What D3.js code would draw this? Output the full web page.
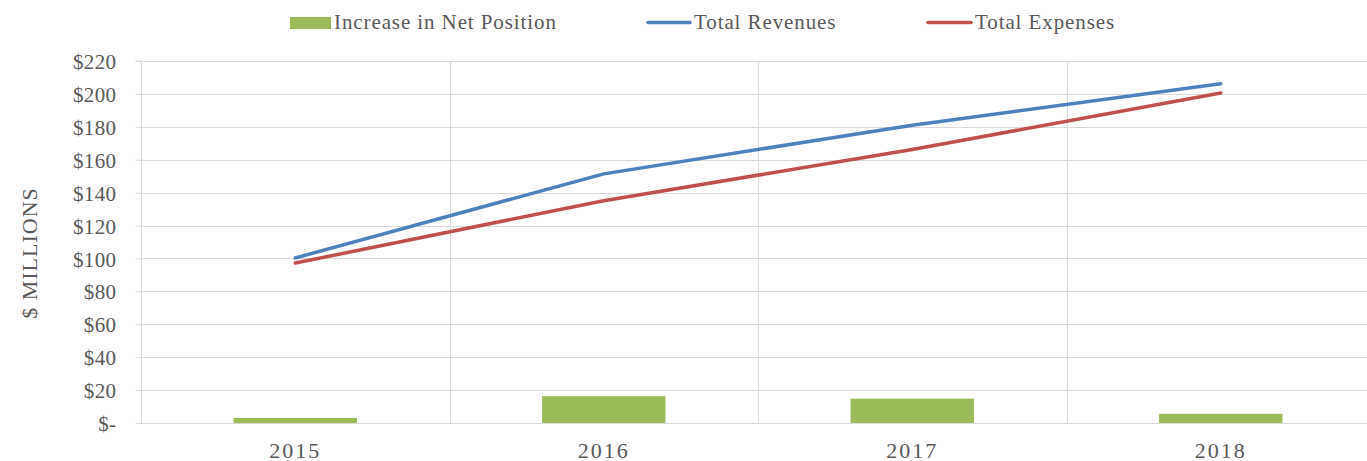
<!DOCTYPE html>
<html>
<head>
<meta charset="utf-8">
<script src="https://cdn.jsdelivr.net/npm/d3@7"></script>
<style>
  html, body { margin: 0; padding: 0; background: #fff; overflow: hidden; }
  svg text { font-family: "Liberation Serif", "Tinos", "Times New Roman", "DejaVu Serif", serif !important; }
</style>
</head>
<body>
<svg id="chart" width="1367" height="461"></svg>
<script>
const years = ["2015", "2016", "2017", "2018"];
const increaseNetPosition = [3.1, 16.3, 14.8, 5.6];
const totalRevenues = [100.3, 151.4, 181.0, 206.2];
const totalExpenses = [97.2, 135.1, 166.2, 200.6];
const yTicks = [0, 20, 40, 60, 80, 100, 120, 140, 160, 180, 200, 220];
const legendLabels = ["Increase in Net Position", "Total Revenues", "Total Expenses"];

const colors = { bar: "#9bbb59", rev: "#4f81bd", exp: "#c0504d", grid: "#d9d9d9", text: "#595959" };
const svg = d3.select("#chart");
const pLeft = 141, pRight = 1375, pTop = 61, pBottom = 423;

const x = d3.scaleBand().domain(years).range([pLeft, pRight]).paddingInner(0).paddingOuter(0);
const y = d3.scaleLinear().domain([0, 220]).range([pBottom, pTop]);

// horizontal gridlines
svg.append("g").selectAll("line").data(yTicks.filter(d => d > 0)).join("line")
  .attr("x1", pLeft).attr("x2", pRight)
  .attr("y1", d => Math.round(y(d)) + 0.5).attr("y2", d => Math.round(y(d)) + 0.5)
  .attr("stroke", colors.grid).attr("stroke-width", 1);

// vertical category gridlines
svg.append("g").selectAll("line").data(years.slice(1)).join("line")
  .attr("x1", d => Math.round(x(d)) + 0.5).attr("x2", d => Math.round(x(d)) + 0.5)
  .attr("y1", pTop).attr("y2", pBottom)
  .attr("stroke", colors.grid).attr("stroke-width", 1);

// y axis
const yAxis = d3.axisLeft(y).tickValues(yTicks).tickSize(6).tickPadding(19)
  .tickFormat(d => d === 0 ? "$-" : "$" + d);
const gy = svg.append("g").attr("transform", `translate(${pLeft + 0.5},0)`).call(yAxis)
  .attr("font-family", null).attr("font-size", null);
gy.select(".domain").attr("stroke", colors.grid).attr("d", `M-6,${pTop}H0V${pBottom}`);
gy.selectAll(".tick line").attr("stroke", colors.grid);
gy.selectAll(".tick text").attr("fill", colors.text).style("font-size", "21px")
  .attr("dy", "0.36em").style("letter-spacing", "0.4px");

// x axis
const xAxis = d3.axisBottom(x).tickSize(0).tickPadding(0);
const gx = svg.append("g").attr("transform", `translate(0,${pBottom + 0.5})`).call(xAxis)
  .attr("font-family", null).attr("font-size", null);
gx.select(".domain").attr("stroke", colors.grid).attr("d", `M${pLeft},0H${pRight}`);
gx.selectAll(".tick text").attr("fill", colors.text).style("font-size", "22px")
  .style("letter-spacing", "2px")
  .attr("y", 0).attr("dy", "34px");

// bars
const barW = x.bandwidth() * 0.4;
svg.append("g").selectAll("rect").data(years).join("rect")
  .attr("x", d => x(d) + (x.bandwidth() - barW) / 2)
  .attr("width", barW)
  .attr("y", (d, i) => y(increaseNetPosition[i]))
  .attr("height", (d, i) => y(0) - y(increaseNetPosition[i]))
  .attr("fill", colors.bar);

// lines
const line = d3.line().x((d, i) => x(years[i]) + x.bandwidth() / 2).y(d => y(d));
svg.append("path").datum(totalExpenses).attr("d", line)
  .attr("fill", "none").attr("stroke", colors.exp).attr("stroke-width", 3.5).attr("stroke-linecap", "round");
svg.append("path").datum(totalRevenues).attr("d", line)
  .attr("fill", "none").attr("stroke", colors.rev).attr("stroke-width", 3.5).attr("stroke-linecap", "round");

// y-axis title
svg.append("text").attr("transform", "translate(29,253) rotate(-90)")
  .attr("text-anchor", "middle").attr("dy", "0.35em")
  .attr("fill", colors.text).style("font-size", "22px").style("letter-spacing", "1px")
  .text("$ MILLIONS");

// legend
const lg = svg.append("g");
lg.append("rect").attr("x", 290).attr("y", 17).attr("width", 41).attr("height", 12).attr("fill", colors.bar);
lg.append("text").attr("x", 334).attr("y", 29).attr("fill", colors.text)
  .style("font-size", "21px").style("letter-spacing", "0.9px").text(legendLabels[0]);
lg.append("line").attr("x1", 648).attr("x2", 690).attr("y1", 22.5).attr("y2", 22.5)
  .attr("stroke", colors.rev).attr("stroke-width", 3.5).attr("stroke-linecap", "round");
lg.append("text").attr("x", 694).attr("y", 29).attr("fill", colors.text)
  .style("font-size", "21px").style("letter-spacing", "0.9px").text(legendLabels[1]);
lg.append("line").attr("x1", 928).attr("x2", 971).attr("y1", 22.5).attr("y2", 22.5)
  .attr("stroke", colors.exp).attr("stroke-width", 3.5).attr("stroke-linecap", "round");
lg.append("text").attr("x", 975).attr("y", 29).attr("fill", colors.text)
  .style("font-size", "21px").style("letter-spacing", "0.9px").text(legendLabels[2]);
</script>
</body>
</html>
